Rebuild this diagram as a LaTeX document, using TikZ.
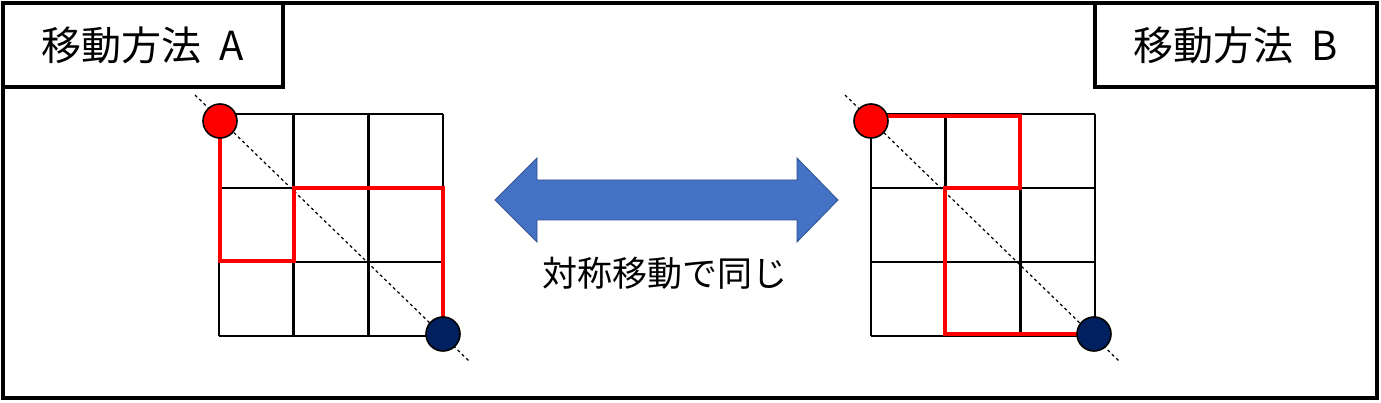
\documentclass[tikz,border=0pt]{standalone}
\usepackage{fontspec}
\newfontfamily\cjk{Noto Sans CJK JP}
\begin{document}
\begin{tikzpicture}[x=1pt,y=-1pt,
  frame/.style={draw=black,line width=3.5pt},
  gridline/.style={draw=black,line width=2.4pt},
  route/.style={draw=red,line width=4.5pt},
  diag/.style={draw=black,dashed,line width=1.2pt},
  startdot/.style={circle,fill=red,draw=black,line width=1.6pt,minimum size=34pt,inner sep=0pt},
  enddot/.style={circle,fill={rgb,255:red,0;green,32;blue,96},draw=black,line width=1.6pt,minimum size=34pt,inner sep=0pt},
  lbl/.style={font=\cjk\fontsize{40pt}{44pt}\selectfont}]
\useasboundingbox (0,0) rectangle (1381,403);
\fill[white] (0,0) rectangle (1381,403);
\draw[frame] (3,3) rectangle (1377,398);
\draw[frame] (3,3) rectangle (283,87);
\draw[frame] (1095,3) rectangle (1377,87);
\node[lbl] (la) at (143,45) {移動方法\ \ A};
\node[lbl] (lb) at (1236,45) {移動方法\ \ B};
% left
\coordinate (d1a) at (195,95); \coordinate (d1b) at (470,362);
\draw[diag] (d1a) -- (d1b);
\foreach \i in {0,1,2,3}{\draw[gridline] (219+74.67*\i,114) -- (219+74.67*\i,336); \draw[gridline] (219,114+74*\i) -- (443,114+74*\i);}
\draw[route] (220,121) -- (220,261) -- (294,261) -- (294,188) -- (443,188) -- (443,334);
\node[startdot] (sa) at (220,121) {};
\node[enddot] (ea) at (443,334) {};
% right
\coordinate (d2a) at (845,95); \coordinate (d2b) at (1120,362);
\draw[diag] (d2a) -- (d2b);
\foreach \i in {0,1,2,3}{\draw[gridline] (871+74.67*\i,114) -- (871+74.67*\i,336); \draw[gridline] (871,114+74*\i) -- (1095,114+74*\i);}
\draw[route] (871,116) -- (1020,116) -- (1020,188) -- (945,188) -- (945,334) -- (1094,334);
\node[startdot] (sb) at (871,121) {};
\node[enddot] (eb) at (1094,334) {};
% arrow
\fill[fill={rgb,255:red,68;green,114;blue,196},draw={rgb,255:red,47;green,82;blue,143},line width=0.8pt]
 (495,200) -- (537,158) -- (537,180) -- (797,180) -- (797,158) -- (838,200) -- (797,242) -- (797,220) -- (537,220) -- (537,242) -- cycle;
\node[font=\cjk\fontsize{35pt}{38pt}\selectfont] (cap) at (665,273) {対称移動で同じ};
\end{tikzpicture}
\end{document}
